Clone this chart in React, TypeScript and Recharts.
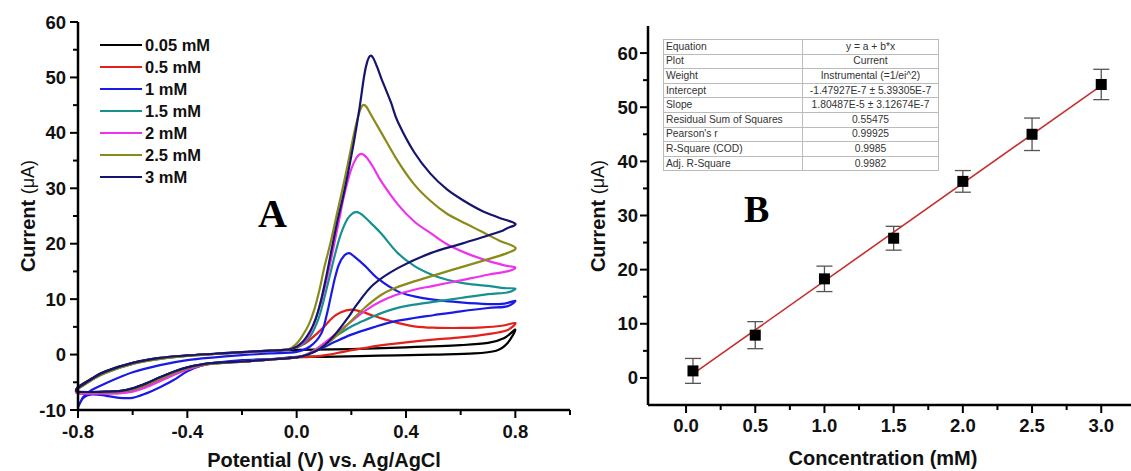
import React from 'react';
import {
  LineChart,
  ComposedChart,
  Line,
  Scatter,
  ErrorBar,
  XAxis,
  YAxis,
  Legend,
} from 'recharts';

// ---- Panel A: cyclic voltammograms, [potential V, current uA] in scan order ----
const cv005: [number, number][] = [
  [-0.8, -5.8], [-0.75, -4.3], [-0.7, -3.0], [-0.6, -1.5], [-0.5, -0.6], [-0.4, -0.15], [-0.3, 0.15],
  [-0.2, 0.45], [-0.1, 0.65], [0, 0.85], [0.2, 1.0], [0.4, 1.3], [0.6, 1.7], [0.7, 2.1], [0.76, 3.0],
  [0.8, 4.5], [0.77, 2.0], [0.73, 0.7], [0.65, 0.2], [0.5, 0.0], [0.3, -0.2], [0.1, -0.4], [0, -0.4],
  [-0.1, -0.9], [-0.2, -1.25], [-0.3, -1.5], [-0.35, -1.8], [-0.4, -2.3], [-0.45, -3.1], [-0.5, -4.1],
  [-0.55, -5.2], [-0.6, -6.1], [-0.65, -6.6], [-0.7, -6.7], [-0.8, -6.7], [-0.8, -5.8],
];
const cv05: [number, number][] = [
  [-0.8, -6.0], [-0.75, -4.5], [-0.7, -3.2], [-0.6, -1.6], [-0.5, -0.7], [-0.4, -0.2], [-0.3, 0.1],
  [-0.2, 0.4], [-0.1, 0.7], [-0.02, 1.0], [0.03, 2.0], [0.07, 3.6], [0.1, 5.0], [0.13, 6.6], [0.16, 7.6],
  [0.2, 8.1], [0.24, 7.7], [0.28, 7.0], [0.32, 6.4], [0.37, 5.7], [0.43, 5.1], [0.5, 4.85], [0.6, 4.8],
  [0.68, 4.9], [0.75, 5.2], [0.8, 5.7], [0.77, 4.4], [0.7, 3.7], [0.6, 3.1], [0.5, 2.7], [0.4, 2.2],
  [0.3, 1.6], [0.24, 1.1], [0.17, 0.5], [0.12, 0.0], [0.05, -0.4], [0, -0.5], [-0.1, -0.9], [-0.2, -1.3],
  [-0.3, -1.6], [-0.35, -2.0], [-0.4, -2.7], [-0.45, -3.6], [-0.5, -4.7], [-0.55, -5.7], [-0.6, -6.5],
  [-0.65, -6.9], [-0.7, -7.0], [-0.8, -7.0], [-0.8, -6.0],
];
const cv1: [number, number][] = [
  [-0.8, -9.5], [-0.78, -7.6], [-0.75, -6.4], [-0.7, -5.2], [-0.6, -3.2], [-0.5, -1.9], [-0.4, -1.0],
  [-0.3, -0.5], [-0.2, -0.1], [-0.1, 0.2], [0, 0.5], [0.05, 1.5], [0.09, 3.8], [0.11, 7.2], [0.125, 10.5],
  [0.14, 13.8], [0.155, 16.3], [0.175, 17.9], [0.192, 18.3], [0.21, 17.7], [0.25, 16.0], [0.3, 13.6],
  [0.37, 11.4], [0.43, 10.5], [0.5, 9.9], [0.6, 9.4], [0.7, 9.1], [0.76, 9.2], [0.8, 9.7], [0.77, 8.7],
  [0.7, 8.4], [0.6, 7.8], [0.5, 7.1], [0.43, 6.6], [0.35, 5.9], [0.28, 4.9], [0.2, 3.6], [0.14, 2.3],
  [0.09, 1.1], [0.04, 0.0], [0, -0.5], [-0.1, -0.8], [-0.2, -1.0], [-0.3, -1.5], [-0.35, -2.0],
  [-0.4, -3.0], [-0.45, -4.6], [-0.5, -5.9], [-0.55, -7.0], [-0.6, -7.8], [-0.65, -7.8], [-0.7, -7.4],
  [-0.75, -7.2], [-0.78, -7.8], [-0.8, -9.5],
];
const cv15: [number, number][] = [
  [-0.8, -6.2], [-0.75, -4.6], [-0.7, -3.3], [-0.6, -1.7], [-0.5, -0.8], [-0.4, -0.25], [-0.3, 0.1],
  [-0.2, 0.4], [-0.1, 0.7], [-0.02, 1.0], [0.02, 1.8], [0.05, 3.3], [0.08, 6.5], [0.1, 10], [0.12, 14],
  [0.14, 18], [0.16, 21.5], [0.185, 24.4], [0.205, 25.5], [0.222, 25.7], [0.24, 25.2], [0.27, 23.8],
  [0.31, 21.8], [0.37, 18.3], [0.43, 16.0], [0.49, 14.5], [0.55, 13.5], [0.62, 12.8], [0.7, 12.4],
  [0.76, 12.0], [0.8, 11.9], [0.77, 11.2], [0.7, 10.9], [0.6, 10.2], [0.5, 9.5], [0.43, 9.0], [0.36, 8.3],
  [0.3, 7.3], [0.24, 6.0], [0.19, 4.8], [0.13, 2.9], [0.08, 1.2], [0.04, 0.1], [0, -0.5], [-0.1, -0.9],
  [-0.2, -1.3], [-0.3, -1.6], [-0.35, -1.9], [-0.4, -2.5], [-0.45, -3.3], [-0.5, -4.3], [-0.55, -5.4],
  [-0.6, -6.3], [-0.65, -6.7], [-0.7, -6.8], [-0.8, -6.8], [-0.8, -6.2],
];
const cv2: [number, number][] = [
  [-0.8, -6.0], [-0.75, -4.5], [-0.7, -3.2], [-0.6, -1.6], [-0.5, -0.7], [-0.4, -0.2], [-0.3, 0.1],
  [-0.2, 0.4], [-0.1, 0.7], [-0.02, 1.0], [0.02, 2.0], [0.05, 4.0], [0.08, 8.0], [0.1, 11.5], [0.125, 17],
  [0.15, 23], [0.175, 29], [0.2, 33.5], [0.22, 35.6], [0.236, 36.2], [0.255, 35.6], [0.28, 33.8],
  [0.31, 31.2], [0.37, 27.1], [0.43, 24.0], [0.49, 21.9], [0.55, 19.9], [0.62, 18.3], [0.7, 16.9],
  [0.76, 16.1], [0.8, 15.7], [0.77, 15.0], [0.7, 14.4], [0.6, 13.4], [0.5, 12.4], [0.43, 11.7],
  [0.36, 10.7], [0.3, 9.4], [0.25, 7.9], [0.19, 5.6], [0.13, 3.2], [0.08, 1.3], [0.04, 0.1], [0, -0.5],
  [-0.1, -0.9], [-0.2, -1.3], [-0.3, -1.6], [-0.35, -2.0], [-0.4, -2.7], [-0.45, -3.7], [-0.5, -4.8],
  [-0.55, -5.9], [-0.6, -6.7], [-0.65, -7.0], [-0.7, -7.0], [-0.8, -7.0], [-0.8, -6.0],
];
const cv25: [number, number][] = [
  [-0.8, -6.2], [-0.75, -4.6], [-0.7, -3.3], [-0.6, -1.7], [-0.5, -0.8], [-0.4, -0.25], [-0.3, 0.1],
  [-0.2, 0.4], [-0.1, 0.7], [-0.03, 1.0], [0.0, 2.0], [0.02, 3.3], [0.045, 5.5], [0.065, 8.2], [0.085, 12],
  [0.1, 15.5], [0.125, 20.4], [0.15, 26], [0.175, 31.5], [0.2, 37.5], [0.215, 41], [0.23, 43.8],
  [0.242, 45.0], [0.255, 44.7], [0.275, 43.0], [0.31, 40.0], [0.37, 34.9], [0.43, 30.7], [0.49, 27.7],
  [0.55, 25.4], [0.62, 23.6], [0.68, 22.1], [0.74, 20.6], [0.8, 19.3], [0.77, 18.3], [0.68, 16.9],
  [0.55, 15.0], [0.43, 13.2], [0.36, 12.0], [0.31, 10.8], [0.25, 8.5], [0.19, 5.6], [0.13, 2.7],
  [0.08, 1.0], [0.04, 0.0], [0, -0.5], [-0.1, -0.9], [-0.2, -1.3], [-0.3, -1.6], [-0.35, -1.9],
  [-0.4, -2.5], [-0.45, -3.3], [-0.5, -4.3], [-0.55, -5.4], [-0.6, -6.3], [-0.65, -6.7], [-0.7, -6.8],
  [-0.8, -6.8], [-0.8, -6.2],
];
const cv3: [number, number][] = [
  [-0.8, -6.0], [-0.75, -4.4], [-0.7, -3.1], [-0.6, -1.5], [-0.5, -0.6], [-0.4, -0.15], [-0.3, 0.15],
  [-0.2, 0.45], [-0.1, 0.7], [-0.02, 1.0], [0.02, 2.2], [0.05, 4.3], [0.07, 6.5], [0.09, 10], [0.11, 14.5],
  [0.13, 19.5], [0.15, 24.3], [0.17, 28.5], [0.19, 33.3], [0.21, 38.5], [0.23, 44.5], [0.247, 50.3],
  [0.258, 52.8], [0.269, 53.9], [0.28, 53.5], [0.295, 51.8], [0.31, 49.8], [0.345, 45.5], [0.37, 42.0],
  [0.43, 36.5], [0.49, 32.6], [0.55, 29.8], [0.61, 27.8], [0.675, 26.0], [0.74, 24.7], [0.8, 23.6],
  [0.77, 22.8], [0.74, 22.1], [0.61, 20.1], [0.49, 18.3], [0.37, 15.6], [0.28, 12.6], [0.22, 9.0],
  [0.19, 6.8], [0.14, 3.6], [0.09, 1.2], [0.04, 0.0], [0, -0.5], [-0.1, -0.9], [-0.2, -1.25], [-0.3, -1.5],
  [-0.35, -1.8], [-0.4, -2.3], [-0.45, -3.1], [-0.5, -4.1], [-0.55, -5.2], [-0.6, -6.1], [-0.65, -6.6],
  [-0.7, -6.7], [-0.8, -6.7], [-0.8, -6.0],
];

const cvNames = ['0.05 mM', '0.5 mM', '1 mM', '1.5 mM', '2 mM', '2.5 mM', '3 mM'];
const cvColors = ['#000000', '#e3201c', '#1a1ae6', '#179090', '#ee33ee', '#8a8a18', '#15156e'];
const cvCurves = [cv005, cv05, cv1, cv15, cv2, cv25, cv3];

const potentialMajor = [-0.8, -0.4, 0, 0.4, 0.8];
const potentialTicks = [-0.8, -0.6, -0.4, -0.2, 0, 0.2, 0.4, 0.6, 0.8, 1.0];
const currentAMajor = [-10, 0, 10, 20, 30, 40, 50, 60];
const currentATicks = [-10, -5, 0, 5, 10, 15, 20, 25, 30, 35, 40, 45, 50, 55, 60];

// ---- Panel B: calibration ----
const concentration = [0.05, 0.5, 1.0, 1.5, 2.0, 2.5, 3.0];
const peakCurrent = [1.3, 7.9, 18.3, 25.8, 36.3, 45.0, 54.2];
const currentError = [2.3, 2.5, 2.35, 2.2, 2.0, 3.0, 2.8];
const fitIntercept = -0.148; // uA
const fitSlope = 18.0487; // uA per mM

const concMajor = [0, 0.5, 1.0, 1.5, 2.0, 2.5, 3.0];
const concTicks = [0, 0.25, 0.5, 0.75, 1.0, 1.25, 1.5, 1.75, 2.0, 2.25, 2.5, 2.75, 3.0];
const currentBMajor = [0, 10, 20, 30, 40, 50, 60];
const currentBTicks = [0, 5, 10, 15, 20, 25, 30, 35, 40, 45, 50, 55, 60];

const tableLabels = [
  'Equation', 'Plot', 'Weight', 'Intercept', 'Slope',
  'Residual Sum of Squares', "Pearson's r", 'R-Square (COD)', 'Adj. R-Square',
];
const tableValues = [
  'y = a + b*x', 'Current', 'Instrumental (=1/ei^2)', '-1.47927E-7 ± 5.39305E-7',
  '1.80487E-5 ± 3.12674E-7', '0.55475', '0.99925', '0.9985', '0.9982',
];

const FONT = '"Liberation Sans", Arial, sans-serif';

// smooth curve through the points, works for closed loops
const catmullRom = (context: any) => {
  let pts: number[][] = [];
  return {
    areaStart() {},
    areaEnd() {},
    lineStart() {
      pts = [];
    },
    point(x: number, y: number) {
      pts.push([+x, +y]);
    },
    lineEnd() {
      const n = pts.length;
      if (!n) return;
      context.moveTo(pts[0][0], pts[0][1]);
      for (let k = 0; k < n - 1; k++) {
        const p0 = pts[Math.max(k - 1, 0)];
        const p1 = pts[k];
        const p2 = pts[k + 1];
        const p3 = pts[Math.min(k + 2, n - 1)];
        context.bezierCurveTo(
          p1[0] + (p2[0] - p0[0]) / 6, p1[1] + (p2[1] - p0[1]) / 6,
          p2[0] - (p3[0] - p1[0]) / 6, p2[1] - (p3[1] - p1[1]) / 6,
          p2[0], p2[1],
        );
      }
    },
  };
};

const isIn = (list: number[], v: number) => list.some((m) => Math.abs(m - v) < 1e-6);

const bottomTick = (majors: number[], fmt: (v: number) => string, dy: number) => (props: any) => {
  const { x, y, payload } = props;
  const major = isIn(majors, payload.value);
  return (
    <g>
      <line x1={x} y1={y} x2={x} y2={y + (major ? 8 : 5)} stroke="#000" strokeWidth={2} />
      {major && (
        <text x={x} y={y + dy} textAnchor="middle" dominantBaseline="central"
          fontFamily={FONT} fontWeight="bold" fontSize={18.5} fill="#111">
          {fmt(payload.value)}
        </text>
      )}
    </g>
  );
};

const leftTick = (majors: number[], gap: number) => (props: any) => {
  const { x, y, payload } = props;
  const major = isIn(majors, payload.value);
  return (
    <g>
      <line x1={x - (major ? 8 : 5)} y1={y} x2={x} y2={y} stroke="#000" strokeWidth={2} />
      {major && (
        <text x={x - gap} y={y} textAnchor="end" dominantBaseline="central"
          fontFamily={FONT} fontWeight="bold" fontSize={18.5} fill="#111">
          {payload.value}
        </text>
      )}
    </g>
  );
};

const yTitle = (cx: number, cy: number) => () => (
  <text x={cx} y={cy} transform={`rotate(-90 ${cx} ${cy})`} textAnchor="middle" dominantBaseline="central"
    fontFamily={FONT} fontSize={20} fill="#111">
    <tspan fontWeight="bold">Current </tspan>
    <tspan fontSize={18}>(μA)</tspan>
  </text>
);

const xTitle = (text: string, cx: number, cy: number) => () => (
  <text x={cx} y={cy} textAnchor="middle" dominantBaseline="central"
    fontFamily={FONT} fontWeight="bold" fontSize={20} fill="#111">
    {text}
  </text>
);

const CvLegend = () => (
  <div style={{ fontFamily: FONT, fontWeight: 'bold', fontSize: 16.5, color: '#111' }}>
    {cvNames.map((name, k) => (
      <div key={name} style={{ display: 'flex', alignItems: 'center', height: 22 }}>
        <div style={{ width: 42, height: 2.5, background: cvColors[k], marginRight: 3 }} />
        <span>{name}</span>
      </div>
    ))}
  </div>
);

const axisLine = { stroke: '#000', strokeWidth: 2.5 };

export default function App() {
  const cvData = cvCurves.map((c) => c.map(([v, i]) => ({ v, i })));
  const points = concentration.map((x, k) => ({ x, y: peakCurrent[k], err: currentError[k] }));
  const fit = [concentration[0], concentration[concentration.length - 1]].map((x) => ({
    x,
    y: fitIntercept + fitSlope * x,
  }));

  return (
    <div style={{ position: 'absolute', left: 0, top: 0, width: 1131, height: 471, background: '#fff', overflow: 'hidden' }}>
      <div style={{ position: 'absolute', left: 0, top: 0 }}>
        <LineChart width={580} height={471} margin={{ top: 22, right: 10, left: 0, bottom: 0 }}>
          <XAxis dataKey="v" type="number" domain={[-0.8, 1.0]} ticks={potentialTicks} interval={0}
            height={61} tickSize={0} tickMargin={0} tickLine={false} axisLine={axisLine}
            tick={bottomTick(potentialMajor, (v) => v.toFixed(1), 21)}
            label={{ content: xTitle('Potential (V) vs. Ag/AgCl', 324, 460) }} />
          <YAxis type="number" domain={[-10, 60]} ticks={currentATicks} interval={0}
            width={78} tickSize={0} tickMargin={0} tickLine={false} axisLine={axisLine}
            tick={leftTick(currentAMajor, 12)}
            label={{ content: yTitle(28, 216) }} />
          <Legend layout="vertical" align="center" verticalAlign="middle" content={CvLegend}
            wrapperStyle={{ left: 100, top: 34, width: 140, height: 160 }} />
          {cvData.map((d, k) => (
            <Line key={cvNames[k]} data={d} dataKey="i" name={cvNames[k]} type={catmullRom as any}
              stroke={cvColors[k]} strokeWidth={2.2} dot={false} activeDot={false}
              isAnimationActive={false} />
          ))}
        </LineChart>
      </div>

      <div style={{ position: 'absolute', left: 580, top: 0 }}>
        <ComposedChart width={551} height={471} margin={{ top: 26, right: 0, left: 0, bottom: 0 }}>
          <XAxis dataKey="x" type="number" domain={[-0.275, 3.215]} ticks={concTicks} interval={0}
            height={66} tickSize={0} tickMargin={0} tickLine={false} axisLine={axisLine}
            tick={bottomTick(concMajor, (v) => v.toFixed(1), 20)}
            label={{ content: xTitle('Concentration (mM)', 303, 458) }} />
          <YAxis dataKey="y" type="number" domain={[-5, 65]} ticks={currentBTicks} interval={0}
            width={68} tickSize={0} tickMargin={0} tickLine={false} axisLine={axisLine}
            tick={leftTick(currentBMajor, 10)}
            label={{ content: yTitle(18, 216) }} />
          <Scatter data={points} dataKey="y" isAnimationActive={false}
            shape={(p: any) => <rect x={p.cx - 5.5} y={p.cy - 5.5} width={11} height={11} fill="#000" />}>
            <ErrorBar dataKey="err" direction="y" width={8} stroke="#555" strokeWidth={1.3} />
          </Scatter>
          <Line data={fit} dataKey="y" type="linear" stroke="#c43030" strokeWidth={1.6}
            dot={false} activeDot={false} isAnimationActive={false} />
        </ComposedChart>
      </div>

      <div style={{ position: 'absolute', left: 258, top: 192, fontFamily: '"Liberation Serif", serif', fontWeight: 'bold', fontSize: 40, lineHeight: '44px', color: '#000' }}>
        A
      </div>
      <div style={{ position: 'absolute', left: 744, top: 188, fontFamily: '"Liberation Serif", serif', fontWeight: 'bold', fontSize: 38, lineHeight: '42px', color: '#000' }}>
        B
      </div>

      <table style={{
        position: 'absolute', left: 663, top: 39, width: 276, borderCollapse: 'collapse',
        fontFamily: FONT, fontSize: 10.3, color: '#333', border: '1px solid #777', background: '#fff',
      }}>
        <tbody>
          {tableLabels.map((label, k) => (
            <tr key={label} style={{ height: 14.6 }}>
              <td style={{ width: 134, border: '1px solid #bbb', padding: '0 2px', lineHeight: '12px' }}>{label}</td>
              <td style={{ border: '1px solid #bbb', padding: 0, textAlign: 'center', lineHeight: '12px' }}>{tableValues[k]}</td>
            </tr>
          ))}
        </tbody>
      </table>
    </div>
  );
}
